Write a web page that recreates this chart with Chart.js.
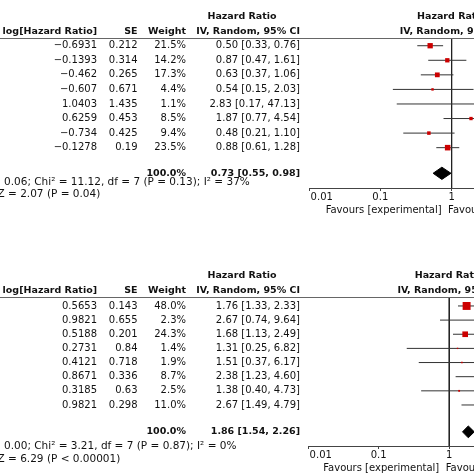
<!DOCTYPE html>
<html>
<head>
<meta charset="utf-8">
<script src="https://cdn.jsdelivr.net/npm/chart.js@4.4.0/dist/chart.umd.min.js"></script>
<style>
  html, body { margin: 0; padding: 0; background: #fff; overflow: hidden; width: 474px; height: 474px; }
  canvas { position: absolute; left: 0; }
  #topPanel { top: 0; }
  #bottomPanel { top: 258px; }
</style>
</head>
<body>
<canvas id="topPanel" width="474" height="258"></canvas>
<canvas id="bottomPanel" width="474" height="258"></canvas>
<script>
// shared axis / header text
var tickValues = [0.01, 0.1, 1, 10, 100];
var headerTitle = 'Hazard Ratio';
var headerCols = ['log[Hazard Ratio]', 'SE', 'Weight', 'IV, Random, 95% CI'];
var favourLabels = ['Favours [experimental]', 'Favours [control]'];

// top forest plot
var topLogHR = [-0.6931, -0.1393, -0.462, -0.607, 1.0403, 0.6259, -0.734, -0.1278];
var topSE = [0.212, 0.314, 0.265, 0.671, 1.435, 0.453, 0.425, 0.19];
var topWeight = [21.5, 14.2, 17.3, 4.4, 1.1, 8.5, 9.4, 23.5];
var topHR = [0.50, 0.87, 0.63, 0.54, 2.83, 1.87, 0.48, 0.88];
var topLow = [0.33, 0.47, 0.37, 0.15, 0.17, 0.77, 0.21, 0.61];
var topHigh = [0.76, 1.61, 1.06, 2.03, 47.13, 4.54, 1.10, 1.28];
var topTotal = [0.73, 0.55, 0.98];
var topHet = ['Heterogeneity: Tau\u00b2 = ', '0.06; Chi\u00b2 = 11.12, df = 7 (P = 0.13); I\u00b2 = 37%'];
var topZ = ['Test for overall effect: ', 'Z = 2.07 (P = 0.04)'];

// bottom forest plot
var botLogHR = [0.5653, 0.9821, 0.5188, 0.2731, 0.4121, 0.8671, 0.3185, 0.9821];
var botSE = [0.143, 0.655, 0.201, 0.84, 0.718, 0.336, 0.63, 0.298];
var botWeight = [48.0, 2.3, 24.3, 1.4, 1.9, 8.7, 2.5, 11.0];
var botHR = [1.76, 2.67, 1.68, 1.31, 1.51, 2.38, 1.38, 2.67];
var botLow = [1.33, 0.74, 1.13, 0.25, 0.37, 1.23, 0.40, 1.49];
var botHigh = [2.33, 9.64, 2.49, 6.82, 6.17, 4.60, 4.73, 4.79];
var botTotal = [1.86, 1.54, 2.26];
var botHet = ['Heterogeneity: Tau\u00b2 = ', '0.00; Chi\u00b2 = 3.21, df = 7 (P = 0.87); I\u00b2 = 0%'];
var botZ = ['Test for overall effect: ', 'Z = 6.29 (P < 0.00001)'];

var FONT = '"DejaVu Sans", sans-serif';

function ciText(est, lo, hi) {
  return est.toFixed(2) + ' [' + lo.toFixed(2) + ', ' + hi.toFixed(2) + ']';
}

function makePanel(id, d, look) {
  var ciData = [], sqData = [], sqRadius = [];
  for (var i = 0; i < d.hr.length; i++) {
    ciData.push({x: d.low[i], y: i}, {x: d.high[i], y: i}, {x: NaN, y: NaN});
    sqData.push({x: d.hr[i], y: i});
    // square area follows study weight
    sqRadius.push(0.81 * Math.sqrt(d.weight[i]));
  }
  var t = look.totalRow, h = 0.42;
  var diamond = [
    {x: d.total[1], y: t}, {x: d.total[0], y: t - h},
    {x: d.total[2], y: t}, {x: d.total[0], y: t + h}, {x: d.total[1], y: t}
  ];

  var tablePlugin = {
    id: 'table',
    afterDraw: function (chart) {
      var ctx = chart.ctx, xs = chart.scales.x, ys = chart.scales.y, area = chart.chartArea;
      var x1 = xs.getPixelForValue(1);
      var ruleY = Math.round(ys.getPixelForValue(look.ruleRow)) + 0.5;
      ctx.save();
      ctx.strokeStyle = '#666';
      ctx.lineWidth = 1;
      ctx.beginPath();
      ctx.moveTo(0, ruleY);
      ctx.lineTo(474, ruleY);
      ctx.stroke();

      ctx.fillStyle = '#111';
      ctx.textBaseline = 'middle';
      // headers
      ctx.font = 'bold 9.5px ' + FONT;
      ctx.textAlign = 'center';
      ctx.fillText(headerTitle, 242, ruleY - 21.5);
      ctx.fillText(headerTitle, x1, ruleY - 21.5);
      ctx.fillText(headerCols[3], x1, ruleY - 6.5);
      ctx.textAlign = 'right';
      ctx.fillText(headerCols[0], 97, ruleY - 6.5);
      ctx.fillText(headerCols[1], 137.5, ruleY - 6.5);
      ctx.fillText(headerCols[2], 186, ruleY - 6.5);
      ctx.fillText(headerCols[3], 300, ruleY - 6.5);

      // study rows
      ctx.font = '10px ' + FONT;
      for (var i = 0; i < d.hr.length; i++) {
        var y = ys.getPixelForValue(i);
        ctx.fillText(String(d.logHR[i]).replace('-', '\u2212'), 97, y);
        ctx.fillText(String(d.se[i]), 137.5, y);
        ctx.fillText(d.weight[i].toFixed(1) + '%', 186, y);
        ctx.fillText(ciText(d.hr[i], d.low[i], d.high[i]), 300, y);
      }

      // total row
      var ty = ys.getPixelForValue(look.totalRow);
      ctx.font = 'bold 9.5px ' + FONT;
      ctx.fillText('100.0%', 186, ty);
      ctx.fillText(ciText(d.total[0], d.total[1], d.total[2]), 300, ty);

      // heterogeneity + overall effect, cut at the left edge like the source
      ctx.font = '10.5px ' + FONT;
      ctx.textAlign = 'left';
      var w = ctx.measureText(d.het[0]).width;
      ctx.fillText(d.het[0] + d.het[1], 4 - w, area.bottom + look.hetY);
      w = ctx.measureText(d.z[0]).width;
      ctx.fillText(d.z[0] + d.z[1], -2.5 - w, area.bottom + look.zY);

      // favours labels
      ctx.font = '10px ' + FONT;
      ctx.textAlign = 'right';
      ctx.fillText(favourLabels[0], x1 - 10, area.bottom + 22.5);
      ctx.textAlign = 'left';
      ctx.fillText(favourLabels[1], x1 - 3.5, area.bottom + 22.5);
      ctx.restore();
    }
  };

  return new Chart(document.getElementById(id), {
    type: 'scatter',
    data: {
      datasets: [
        {
          data: sqData,
          pointStyle: 'rect',
          pointRadius: sqRadius,
          backgroundColor: '#cc0000',
          borderWidth: 0
        },
        {
          data: diamond,
          showLine: true,
          fill: 'shape',
          backgroundColor: '#000',
          borderColor: '#000',
          borderWidth: 1,
          pointRadius: 0
        },
        {
          data: ciData,
          showLine: true,
          borderColor: '#333',
          borderWidth: 1,
          pointRadius: 0
        },
        {
          data: [{x: 1, y: look.ruleRow}, {x: 1, y: look.yMax}],
          showLine: true,
          borderColor: '#222',
          borderWidth: 1,
          pointRadius: 0
        }
      ]
    },
    options: {
      responsive: false,
      animation: false,
      events: [],
      layout: { autoPadding: false, padding: { left: look.left, right: 0, top: 0, bottom: 0 } },
      plugins: { legend: { display: false }, tooltip: { enabled: false } },
      scales: {
        x: {
          type: 'logarithmic',
          min: 0.01,
          max: look.xMax,
          afterBuildTicks: function (scale) {
            scale.ticks = tickValues.filter(function (v) { return v <= look.xMax; })
              .map(function (v) { return {value: v}; });
          },
          afterFit: function (scale) { scale.height = 70; },
          grid: { drawOnChartArea: false, drawTicks: true, tickLength: 3, color: '#444' },
          border: { display: true, color: '#444', width: 1 },
          ticks: {
            autoSkip: false,
            maxRotation: 0,
            padding: 0,
            color: '#111',
            font: { family: FONT, size: 10 },
            callback: function (v) {
              // first label sits to the right of its tick in the original
              if (v === 0.01) return '\u2007\u2007\u2007\u20070.01';
              return String(v);
            }
          }
        },
        y: {
          type: 'linear',
          display: false,
          reverse: true,
          min: look.yMin,
          max: look.yMax
        }
      }
    },
    plugins: [tablePlugin]
  });
}

makePanel('topPanel', {
  logHR: topLogHR, se: topSE, weight: topWeight, hr: topHR, low: topLow, high: topHigh,
  total: topTotal, het: topHet, z: topZ
}, { left: 309, xMax: 2.06, yMin: -3.14, yMax: 9.77, ruleRow: -0.5, totalRow: 8.76, hetY: -5.5, zY: 6 });

makePanel('bottomPanel', {
  logHR: botLogHR, se: botSE, weight: botWeight, hr: botHR, low: botLow, high: botHigh,
  total: botTotal, het: botHet, z: botZ
}, { left: 308, xMax: 2.24, yMin: -3.39, yMax: 9.9, ruleRow: -0.6, totalRow: 8.9, hetY: 0, zY: 13 });
</script>
</body>
</html>
